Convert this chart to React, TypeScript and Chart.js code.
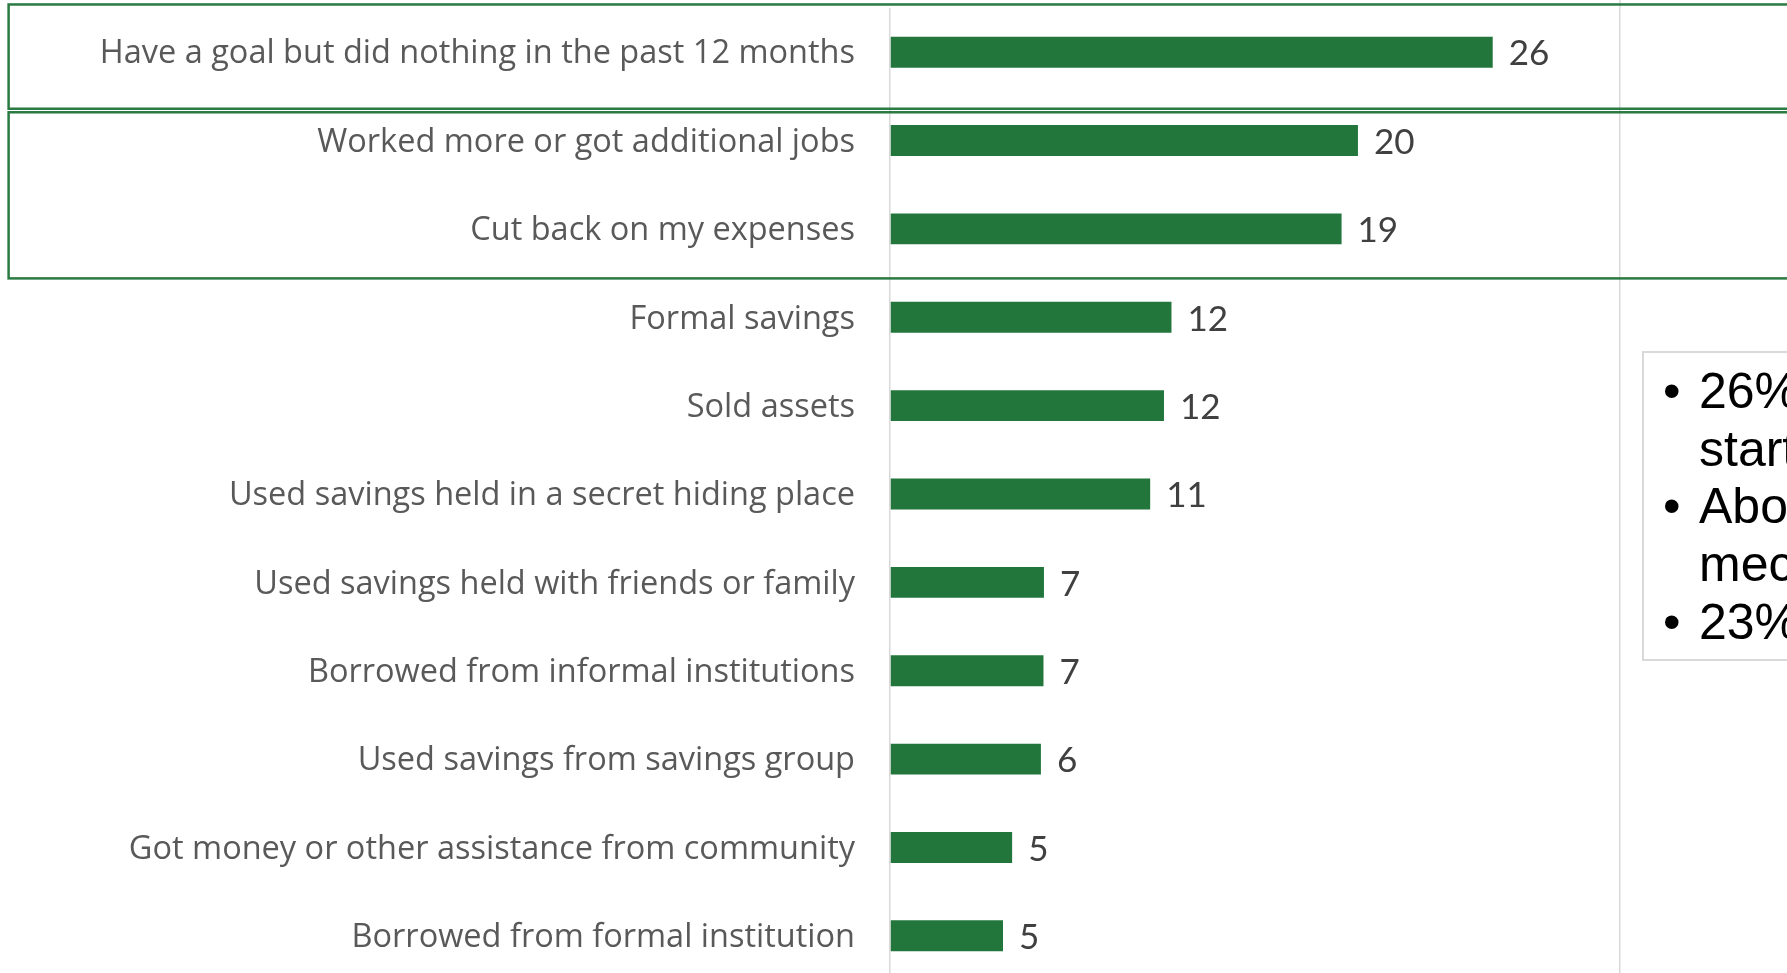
import React, { useEffect, useRef } from "react";
import { Chart, registerables } from "chart.js";

Chart.register(...registerables);

const categories = [
  "Have a goal but did nothing in the past 12 months",
  "Worked more or got additional jobs",
  "Cut back on my expenses",
  "Formal savings",
  "Sold assets",
  "Used savings held in a secret hiding place",
  "Used savings held with friends or family",
  "Borrowed from informal institutions",
  "Used savings from savings group",
  "Got money or other assistance from community",
  "Borrowed from formal institution",
];

const values = [25.76, 20.0, 19.3, 12.03, 11.71, 11.12, 6.58, 6.56, 6.45, 5.22, 4.83];
const valueLabels = ["26", "20", "19", "12", "12", "11", "7", "7", "6", "5", "5"];
const gridValues = [0, 31.2];

const noteLines = [
  { bullet: true, text: "26% have a goal but have not yet" },
  { bullet: false, text: "started working towards it" },
  { bullet: true, text: "About a fifth use coping" },
  { bullet: false, text: "mechanisms such as working more" },
  { bullet: true, text: "23% rely on savings" },
];

// highlighted groups: [start, end] in category units relative to first row
const highlightBoxes = [
  [-0.54, 0.64],
  [0.68, 2.56],
];

const W = 1787;
const H = 973;
const CANVAS_H = 990;

const barLabelPlugin = {
  id: "barLabels",
  afterDatasetsDraw(chart: any) {
    const ctx = chart.ctx;
    const meta = chart.getDatasetMeta(0);
    ctx.save();
    ctx.fillStyle = "#404040";
    ctx.font = "35px Lato";
    ctx.textAlign = "left";
    ctx.textBaseline = "middle";
    meta.data.forEach((bar: any, i: number) => {
      ctx.fillText(valueLabels[i], bar.x + 16, bar.y + 2);
    });
    ctx.restore();
  },
};

const boxPlugin = {
  id: "boxes",
  beforeDatasetsDraw(chart: any) {
    // the outer gridline continues up to the top edge
    const ctx = chart.ctx;
    const x = chart.scales.x.getPixelForValue(gridValues[gridValues.length - 1]);
    ctx.save();
    ctx.strokeStyle = "#d9d9d9";
    ctx.lineWidth = 1.5;
    ctx.beginPath();
    ctx.moveTo(x, 0);
    ctx.lineTo(x, chart.chartArea.top);
    ctx.stroke();
    ctx.restore();
  },
  afterDraw(chart: any) {
    const ctx = chart.ctx;
    const y = chart.scales.y;
    const p0 = y.getPixelForValue(0);
    const step = y.getPixelForValue(1) - p0;
    ctx.save();
    ctx.strokeStyle = "#2a7a42";
    ctx.lineWidth = 2.5;
    highlightBoxes.forEach(([a, b]) => {
      const top = p0 + step * a;
      const bottom = p0 + step * b;
      ctx.strokeRect(8.6, top, W + 50, bottom - top);
    });
    ctx.restore();
  },
};

export default function App() {
  const ref = useRef<HTMLCanvasElement>(null);

  useEffect(() => {
    if (!ref.current) return;
    const chart = new Chart(ref.current, {
      type: "bar",
      data: {
        labels: categories,
        datasets: [
          {
            data: values,
            backgroundColor: "#22763c",
            borderWidth: 0,
            barPercentage: 0.35,
            categoryPercentage: 1,
          },
        ],
      },
      options: {
        indexAxis: "y",
        responsive: false,
        animation: false,
        devicePixelRatio: 1,
        layout: { padding: { top: 8, bottom: 10, left: 0, right: W - 1620 } },
        plugins: {
          legend: { display: false },
          tooltip: { enabled: false },
        },
        scales: {
          x: {
            min: 0,
            max: gridValues[gridValues.length - 1],
            afterBuildTicks(scale: any) {
              scale.ticks = gridValues.map((v) => ({ value: v }));
            },
            afterFit(scale: any) {
              scale.height = 0;
              scale.paddingLeft = 0;
              scale.paddingRight = 0;
            },
            ticks: { display: false },
            grid: { color: "#d9d9d9", lineWidth: 1.5, drawTicks: false },
            border: { display: false },
          },
          y: {
            afterFit(scale: any) {
              scale.width = 890;
              scale.paddingTop = 0;
              scale.paddingBottom = 0;
            },
            ticks: {
              color: "#595959",
              font: { family: "'Open Sans'", size: 32.5 },
              padding: 35,
              labelOffset: 2,
              autoSkip: false,
            },
            grid: { display: false, drawTicks: false },
            border: { display: false },
          },
        },
      },
      plugins: [barLabelPlugin, boxPlugin],
    });
    return () => chart.destroy();
  }, []);

  return (
    <div
      style={{
        position: "fixed",
        left: 0,
        top: 0,
        width: W,
        height: H,
        overflow: "hidden",
        background: "#ffffff",
      }}
    >
      <canvas
        ref={ref}
        width={W}
        height={CANVAS_H}
        style={{ position: "absolute", left: 0, top: 0, width: W, height: CANVAS_H }}
      />
      <div
        style={{
          position: "absolute",
          left: 1642,
          top: 351,
          width: 900,
          height: 306,
          border: "2px solid #d9d9d9",
          background: "#ffffff",
          fontFamily: "'Liberation Sans', Arial, sans-serif",
          fontSize: 50,
          lineHeight: "57.7px",
          color: "#000000",
          whiteSpace: "nowrap",
        }}
      >
        {noteLines.map((l, i) => (
          <div key={i} style={{ position: "absolute", top: 10 + i * 57.7, left: 0 }}>
            {l.bullet ? (
              <span style={{ position: "absolute", left: 19 }}>•</span>
            ) : null}
            <span style={{ position: "absolute", left: 55 }}>{l.text}</span>
          </div>
        ))}
      </div>
    </div>
  );
}
